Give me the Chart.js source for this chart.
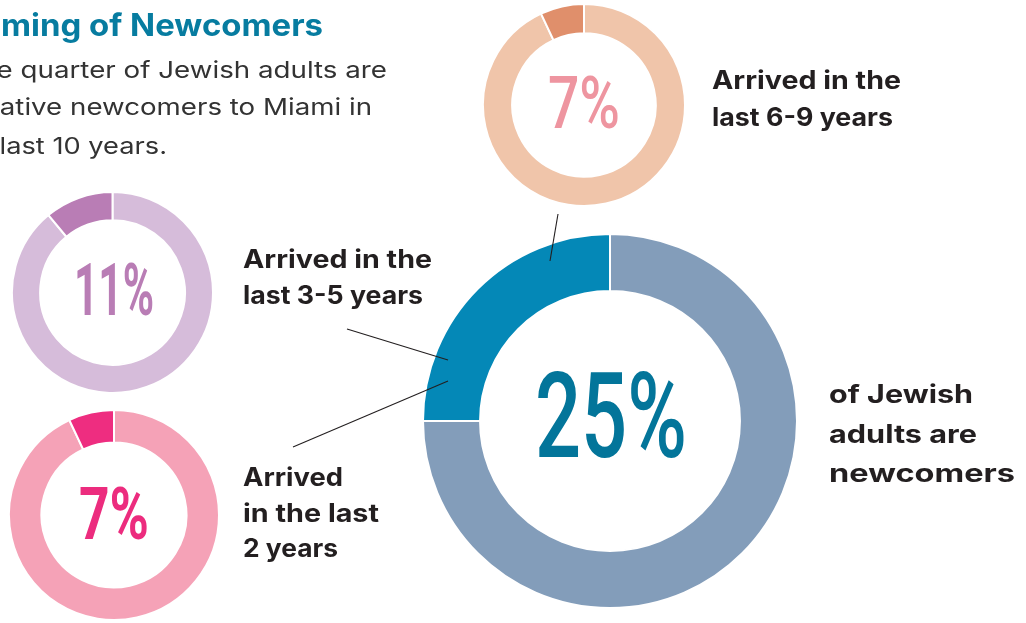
<!DOCTYPE html>
<html>
<head>
<meta charset="utf-8">
<script src="https://cdn.jsdelivr.net/npm/chart.js@4.4.1/dist/chart.umd.min.js"></script>
<style>
  html, body { margin: 0; padding: 0; background: #ffffff; }
  #stage { position: relative; width: 1026px; height: 623px; overflow: hidden; background: #fff; }
  #stage canvas { position: absolute; }
  #overlay { position: absolute; left: 0; top: 0; width: 1026px; height: 623px; pointer-events: none; }
  .lab { font-family: Inter, "Open Sans", sans-serif; font-weight: 700; font-size: 25px; fill: #231F20; }
  .body { font-family: Inter, "Open Sans", sans-serif; font-weight: 400; font-size: 23px; fill: #333333; }
  .pct { font-family: Roboto, "Open Sans", sans-serif; font-weight: 500; }
</style>
</head>
<body>
<div id="stage">
  <canvas id="cMain" width="376" height="376" style="left:422px;top:233px"></canvas>
  <canvas id="c69" width="204" height="204" style="left:482px;top:3px"></canvas>
  <canvas id="c35" width="203" height="203" style="left:11px;top:191px"></canvas>
  <canvas id="c2" width="212" height="212" style="left:8px;top:409px"></canvas>
  <svg id="overlay" width="1026" height="623" xmlns="http://www.w3.org/2000/svg">
    <!-- leader lines -->
    <g stroke="#231F20" stroke-width="1.1" fill="none">
      <line x1="558" y1="214" x2="550" y2="261"/>
      <line x1="347" y1="329" x2="448" y2="360"/>
      <line x1="448" y1="381" x2="293" y2="447"/>
    </g>
    <!-- title & intro -->
    <text x="-30" y="36" textLength="353" lengthAdjust="spacingAndGlyphs"
          style="font-family:Inter,'Open Sans',sans-serif;font-weight:700;font-size:31px;fill:#077CA0">Timing of Newcomers</text>
    <text class="body" x="-41" y="78" textLength="428" lengthAdjust="spacingAndGlyphs">One quarter of Jewish adults are</text>
    <text class="body" x="-33" y="115" textLength="405" lengthAdjust="spacingAndGlyphs">relative newcomers to Miami in</text>
    <text class="body" x="-49" y="154" textLength="216" lengthAdjust="spacingAndGlyphs">the last 10 years.</text>
    <!-- labels -->
    <text class="lab" x="712" y="89" textLength="189" lengthAdjust="spacingAndGlyphs">Arrived in the</text>
    <text class="lab" x="712" y="126" textLength="181" lengthAdjust="spacingAndGlyphs">last 6-9 years</text>
    <text class="lab" x="243" y="268" textLength="189" lengthAdjust="spacingAndGlyphs">Arrived in the</text>
    <text class="lab" x="243" y="304" textLength="180" lengthAdjust="spacingAndGlyphs">last 3-5 years</text>
    <text class="lab" x="243" y="486" textLength="100" lengthAdjust="spacingAndGlyphs">Arrived</text>
    <text class="lab" x="243" y="522" textLength="136" lengthAdjust="spacingAndGlyphs">in the last</text>
    <text class="lab" x="243" y="557" textLength="95" lengthAdjust="spacingAndGlyphs">2 years</text>
    <text class="lab" x="829" y="403" textLength="144" lengthAdjust="spacingAndGlyphs">of Jewish</text>
    <text class="lab" x="829" y="443" textLength="148" lengthAdjust="spacingAndGlyphs">adults are</text>
    <text class="lab" x="829" y="482" textLength="186" lengthAdjust="spacingAndGlyphs">newcomers</text>
    <!-- centre percentages (text filled from data below) -->
    <text id="tMain" class="pct" x="535" y="457" textLength="152" lengthAdjust="spacingAndGlyphs" style="font-size:118px;fill:#03759A"></text>
    <text id="t69" class="pct" x="548" y="128" textLength="72" lengthAdjust="spacingAndGlyphs" style="font-size:72px;fill:#EE95A0"></text>
    <text id="t35" class="pct" x="74" y="315" textLength="80" lengthAdjust="spacingAndGlyphs" style="font-size:72px;fill:#B97DB5;font-weight:700"></text>
    <text id="t2" class="pct" x="79" y="539" textLength="70" lengthAdjust="spacingAndGlyphs" style="font-size:72px;fill:#EC2C7E;font-weight:700"></text>
  </svg>
</div>
<script>
// ---- data ----
const categories = ['Arrived in the last 6-9 years', 'Arrived in the last 3-5 years', 'Arrived in the last 2 years'];
const newcomerShare = [7, 11, 7];          // % of Jewish adults, per arrival period
const otherShare = [93, 89, 93];           // remainder of each small ring
const totalLabels = ['Not newcomers', 'Newcomers'];
const totalValues = [75, 25];              // main ring
const pctLabels = ['7%', '11%', '7%'];
const totalPctLabel = '25%';

// ---- styles ----
const ringColors = [
  ['#F0C5AA', '#E08F6B'],
  ['#D6BCDA', '#B97DB5'],
  ['#F5A2B7', '#EE2D80']
];
const mainColors = ['#839DBA', '#0488B7'];
const cutouts = ['71%', '72%', '69%'];
const canvasIds = ['c69', 'c35', 'c2'];
const textIds = ['t69', 't35', 't2'];

function donut(id, labels, values, colors, cutout) {
  return new Chart(document.getElementById(id), {
    type: 'doughnut',
    data: {
      labels: labels,
      datasets: [{
        data: values,
        backgroundColor: colors,
        borderColor: '#ffffff',
        borderWidth: 2,
        hoverOffset: 0
      }]
    },
    options: {
      responsive: false,
      animation: false,
      events: [],
      cutout: cutout,
      rotation: 0,
      layout: { padding: 0 },
      plugins: { legend: { display: false }, tooltip: { enabled: false } }
    }
  });
}

categories.forEach((cat, i) => {
  donut(canvasIds[i], ['Other', cat], [otherShare[i], newcomerShare[i]], ringColors[i], cutouts[i]);
  document.getElementById(textIds[i]).textContent = pctLabels[i];
});
donut('cMain', totalLabels, totalValues, mainColors, '69.5%');
document.getElementById('tMain').textContent = totalPctLabel;
</script>
</body>
</html>
